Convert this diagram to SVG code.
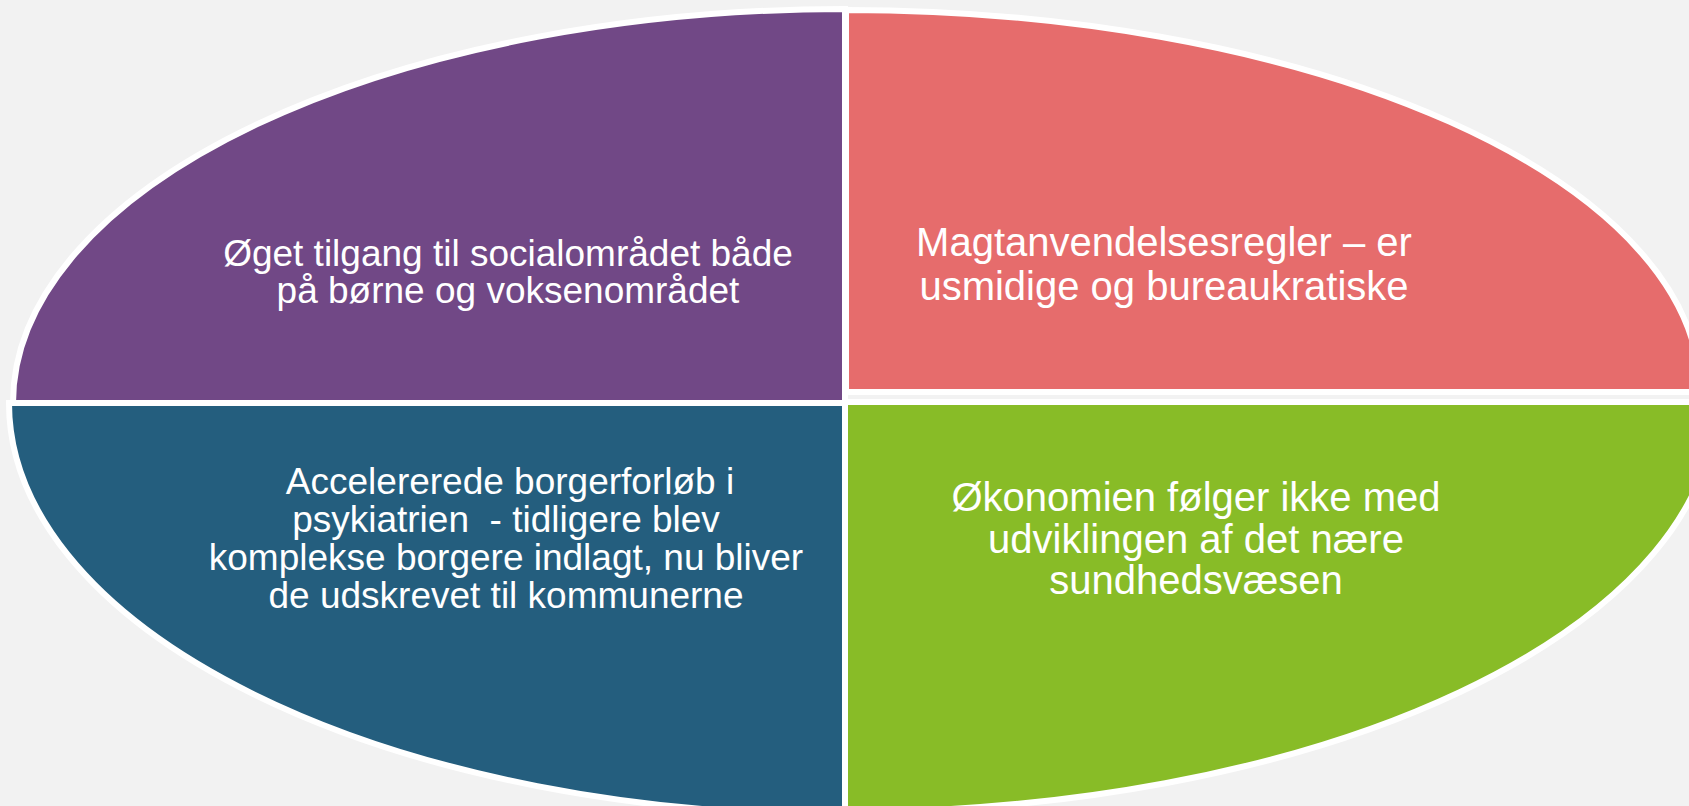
<svg xmlns="http://www.w3.org/2000/svg" width="1689" height="806" viewBox="0 0 1689 806">
<style>
.q{stroke:#ffffff;stroke-width:6;stroke-linejoin:miter}
.t{font-family:"Liberation Sans",Arial,sans-serif;fill:#ffffff;text-anchor:middle}
.s37{font-size:37px}
.s40{font-size:40px}
</style>
<rect x="0" y="0" width="1689" height="806" fill="#f2f2f2"/>
<g id="node-purple">
<path class="q" fill="#714886" d="M 845 403 L 13 403 A 832 394 0 0 1 845 9 Z"/>
<text class="t s37" x="508" y="266">Øget tilgang til socialområdet både</text>
<text class="t s37" x="508" y="303">på børne og voksenområdet</text>
</g>
<g id="node-red">
<path class="q" fill="#e66c6c" d="M 846 392 L 846 10 A 854 382 0 0 1 1700 392 Z"/>
<text class="t s40" x="1164" y="256">Magtanvendelsesregler – er</text>
<text class="t s40" x="1164" y="300">usmidige og bureaukratiske</text>
</g>
<g id="node-blue">
<path class="q" fill="#245e7e" d="M 845 403 L 845 815 A 836 412 0 0 1 9 403 Z"/>
<text class="t s37" x="510" y="494">Accelererede borgerforløb i</text>
<text class="t s37" x="506" y="531.5" xml:space="preserve">psykiatrien  - tidligere blev</text>
<text class="t s37" x="506" y="569.5">komplekse borgere indlagt, nu bliver</text>
<text class="t s37" x="506" y="607.5">de udskrevet til kommunerne</text>
</g>
<g id="node-green">
<path class="q" fill="#88bc27" d="M 845 402 L 1715 402 A 870 410 0 0 1 845 812 Z"/>
<text class="t s40" x="1196" y="511">Økonomien følger ikke med</text>
<text class="t s40" x="1196" y="553">udviklingen af det nære</text>
<text class="t s40" x="1196" y="594">sundhedsvæsen</text>
</g>
<g id="connectors"></g>
</svg>
